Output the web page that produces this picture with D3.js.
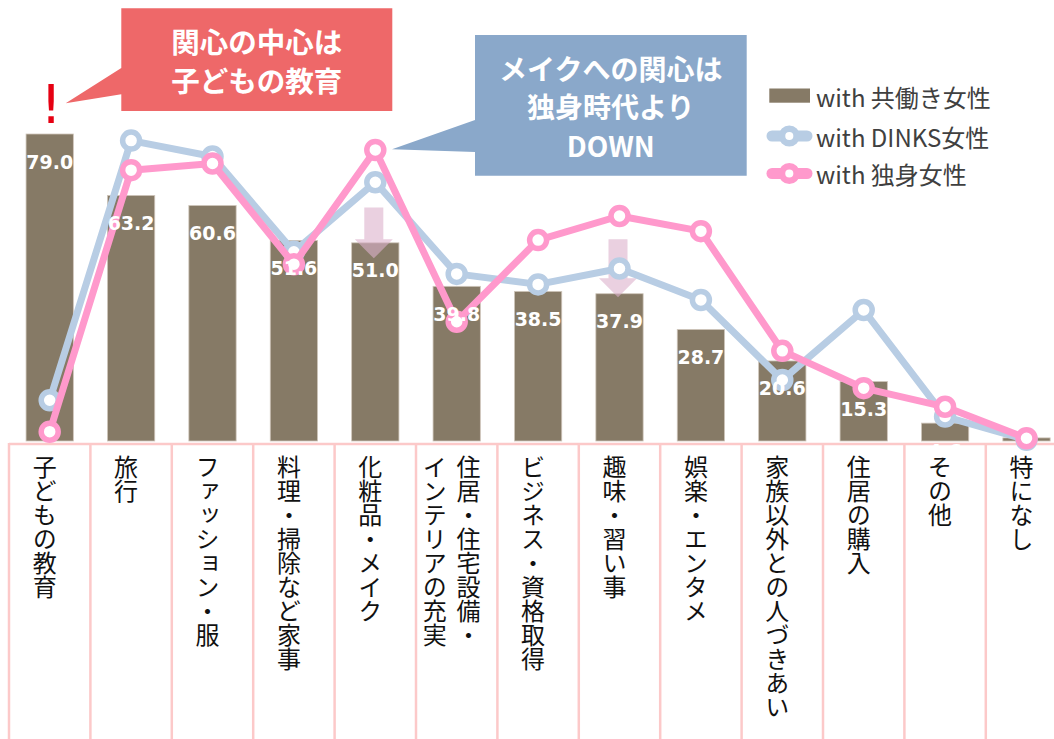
<!DOCTYPE html>
<html><head><meta charset="utf-8">
<script src="https://cdn.jsdelivr.net/npm/d3@7/dist/d3.min.js"></script>
<style>html,body{margin:0;padding:0;background:#fff;overflow:hidden}svg{display:block}</style>
</head><body>
<svg id="chart" width="1054" height="739"></svg>
<script>
// ---- data ----
const categories = ["子どもの教育","旅行","ファッション・服","料理・掃除など家事","化粧品・メイク","住居・住宅設備・\nインテリアの充実","ビジネス・資格取得","趣味・習い事","娯楽・エンタメ","家族以外との人づきあい","住居の購入","その他","特になし"];
const workingValues = [79.0,63.2,60.6,51.6,51.0,39.8,38.5,37.9,28.7,20.6,15.3,4.6,0.8];
const barLabels = ["79.0","63.2","60.6","51.6","51.0","39.8","38.5","37.9","28.7","20.6","15.3","4.6",""];
const dinksValues = [10.5,77.3,73.2,48.7,66.6,43.0,40.3,44.4,36.3,15.7,33.7,6.3,0.3];
const singleValues = [2.4,69.7,71.4,45.5,74.9,30.7,51.7,57.9,54.0,23.2,13.6,8.8,0.7];
const seriesNames = ["with 共働き女性","with DINKS女性","with 独身女性"];
const callout1Lines = ["関心の中心は","子どもの教育"];
const callout2Lines = ["メイクへの関心は","独身時代より","DOWN"];
// down arrows: [category index, top value, bottom value]
const downArrows = [[4,60.1,47.0],[7,51.9,37.0]];

// ---- layout ----
const svg = d3.select("#chart");
const BAR = "#867a66", BLUE = "#b8cde4", PINK = "#ff99cc", GRID = "#fcc9c9";
const FONT = "'Noto Sans CJK JP','Noto Sans',sans-serif";

const x = d3.scaleBand().domain(d3.range(categories.length)).range([9, 9 + 81.4*categories.length]).padding(0);
const y = d3.scaleLinear().domain([0,100]).range([441, 52.4]);
const cx = i => x(i) + x.bandwidth()/2;
const barW = x.bandwidth()*0.581;

// category grid
const g = svg.append("g");
g.append("line").attr("x1",x(0)).attr("x2",1060).attr("y1",444).attr("y2",444)
  .attr("stroke",GRID).attr("stroke-width",2.5);
g.selectAll("line.v").data(d3.range(categories.length)).join("line")
  .attr("class","v").attr("x1",i=>x(i)).attr("x2",i=>x(i)).attr("y1",443).attr("y2",745)
  .attr("stroke",GRID).attr("stroke-width",2.5);

// category labels (vertical)
categories.forEach((c,i)=>{
  const lines = c.split("\n");
  const n = lines.length, colGap = 33.7;
  lines.forEach((ln,j)=>{
    const xc = cx(i) - 5 + ((n-1)/2 - j)*colGap;
    svg.append("text").attr("x",xc).attr("y",455)
      .style("writing-mode","vertical-rl").style("text-orientation","upright")
      .attr("font-family",FONT).attr("font-size",24).attr("fill","#111")
      .text(ln);
  });
});

// bars
svg.selectAll("rect.bar").data(workingValues).join("rect").attr("class","bar")
  .attr("x",(d,i)=>cx(i)-barW/2).attr("width",barW)
  .attr("y",d=>y(d)).attr("height",d=>y(0)-y(d))
  .attr("fill",BAR).attr("stroke","#cfc6bb").attr("stroke-width",0.8);

// down arrows
downArrows.forEach(([i,top,bot])=>{
  const c = cx(i)-1.5, yt=y(top), yb=y(bot), headH=19;
  const p = `M${c-9.5},${yt}H${c+9.5}V${yb-headH}H${c+19}L${c},${yb}L${c-19},${yb-headH}H${c-9.5}Z`;
  svg.append("path").attr("d",p).attr("fill","#dcb0cc").attr("opacity",0.6);
});

// lines
const line = d3.line().x((d,i)=>cx(i)).y(d=>y(d));
[[dinksValues,BLUE],[singleValues,PINK]].forEach(([vals,col])=>{
  svg.append("path").datum(vals).attr("d",line).attr("fill","none")
    .attr("stroke",col).attr("stroke-width",7).attr("stroke-linejoin","round");
  svg.selectAll(null).data(vals).join("circle")
    .attr("cx",(d,i)=>cx(i)).attr("cy",d=>y(d)).attr("r",8.5)
    .attr("fill","#fff").attr("stroke",col).attr("stroke-width",5.5);
});

// bar labels
svg.selectAll("text.bl").data(barLabels).join("text").attr("class","bl")
  .attr("x",(d,i)=>cx(i)).attr("y",(d,i)=>y(workingValues[i])+27.5)
  .attr("text-anchor","middle").attr("dominant-baseline","central")
  .attr("font-family","'DejaVu Sans',Verdana,sans-serif").attr("font-weight","bold")
  .attr("font-size",19).attr("fill","#fff").text(d=>d);

// callout 1 (red)
svg.append("path").attr("d","M121.3,8.3H392.3V111H121.3V94.3L65.7,103.3L121.3,68Z").attr("fill","#ee6869");
const t1 = svg.append("text").attr("text-anchor","middle").attr("font-family",FONT)
  .attr("font-weight","bold").attr("font-size",28.5).attr("fill","#fff");
callout1Lines.forEach((t,k)=>{
  t1.append("tspan").attr("x",256.8).attr("y",42.8+k*39+10).text(t);
});
svg.append("text").attr("x",51).attr("y",123).attr("text-anchor","middle")
  .attr("font-family","'DejaVu Sans',sans-serif").attr("font-size",54).attr("fill","#e60012").text("!");

// callout 2 (blue)
svg.append("path").attr("d","M475,35H746.7V175.7H475V152L392,149.3L475,120Z").attr("fill","#8aa8ca");
const t2 = svg.append("text").attr("text-anchor","middle").attr("font-family",FONT)
  .attr("font-weight","bold").attr("font-size",28).attr("fill","#fff");
callout2Lines.forEach((t,k)=>{
  t2.append("tspan").attr("x",610.8).attr("y",70+k*38.3+10).text(t);
});

// legend
const lg = svg.append("g");
const rowY = [96,136,173.5];
lg.append("rect").attr("x",769.3).attr("y",88.5).attr("width",40.7).attr("height",14.2).attr("fill",BAR);
[[BLUE,1],[PINK,2]].forEach(([col,k])=>{
  lg.append("line").attr("x1",772).attr("x2",807).attr("y1",rowY[k]).attr("y2",rowY[k])
    .attr("stroke",col).attr("stroke-width",11).attr("stroke-linecap","round");
  lg.append("circle").attr("cx",789.3).attr("cy",rowY[k]).attr("r",7.3).attr("fill","#fff")
    .attr("stroke",col).attr("stroke-width",6.5);
});
seriesNames.forEach((s,k)=>{
  lg.append("text").attr("x",816).attr("y",rowY[k]).attr("dominant-baseline","central")
    .attr("font-family",FONT).attr("font-size",24).attr("fill","#404040").text(s);
});
</script>
</body></html>
